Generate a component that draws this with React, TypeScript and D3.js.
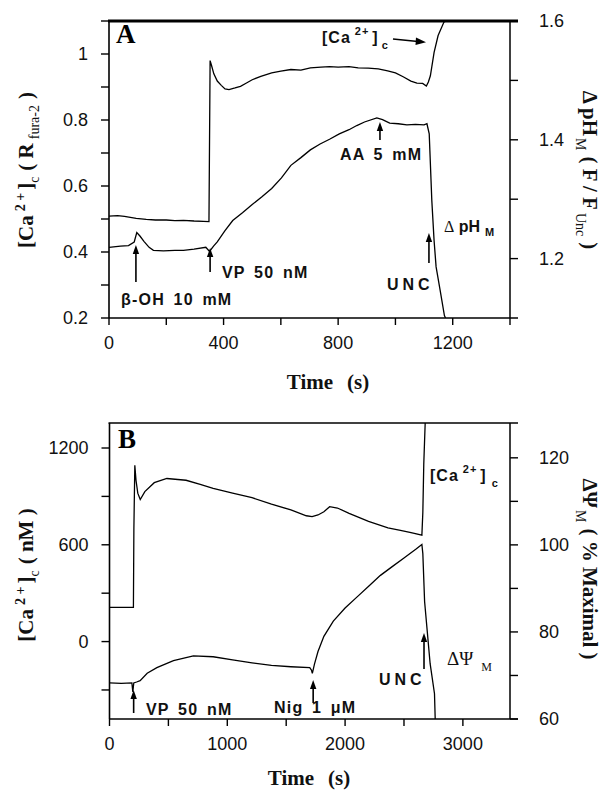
import * as d3 from "d3";

// ---- panel A data (time in s) ----
const caTimeA = [0, 30, 54, 95, 130, 162, 200, 230, 260, 297, 330, 349, 353, 358, 366, 378, 392, 405, 419, 440, 459, 480, 500, 530, 568, 600, 635, 670, 703, 740, 770, 800, 838, 870, 905, 940, 973, 1000, 1027, 1054, 1075, 1095, 1108, 1115, 1122, 1135, 1149, 1169, 1189];
const caValA = [0.509, 0.51, 0.508, 0.502, 0.499, 0.497, 0.497, 0.495, 0.496, 0.494, 0.493, 0.492, 0.98, 0.965, 0.94, 0.918, 0.905, 0.894, 0.892, 0.897, 0.902, 0.912, 0.922, 0.932, 0.943, 0.948, 0.953, 0.951, 0.958, 0.96, 0.962, 0.96, 0.962, 0.958, 0.957, 0.955, 0.949, 0.943, 0.931, 0.918, 0.912, 0.911, 0.903, 0.915, 0.934, 1.005, 1.056, 1.096, 1.108];

const phTimeA = [0, 40, 68, 88, 97, 108, 122, 140, 155, 190, 230, 260, 297, 338, 351, 365, 378, 405, 432, 466, 500, 534, 568, 602, 635, 670, 703, 737, 770, 804, 838, 865, 892, 935, 955, 980, 1010, 1040, 1070, 1100, 1110, 1118, 1127, 1135, 1142, 1156, 1171, 1175];
const phValA = [1.219, 1.221, 1.222, 1.228, 1.244, 1.238, 1.229, 1.219, 1.214, 1.213, 1.214, 1.214, 1.216, 1.219, 1.212, 1.221, 1.228, 1.247, 1.264, 1.277, 1.291, 1.304, 1.318, 1.336, 1.357, 1.37, 1.383, 1.393, 1.401, 1.41, 1.417, 1.424, 1.43, 1.437, 1.434, 1.428, 1.427, 1.425, 1.426, 1.425, 1.427, 1.41, 1.298, 1.23, 1.186, 1.147, 1.104, 1.1];

const xTicksA = [0, 400, 800, 1200];
const yTicksA = [0.2, 0.4, 0.6, 0.8, 1];
const y2TicksA = [1.2, 1.4, 1.6];

// ---- panel B data ----
const caTimeB = [0, 100, 203, 207, 215, 225, 240, 261, 300, 380, 487, 650, 770, 880, 1045, 1210, 1375, 1540, 1671, 1720, 1770, 1820, 1869, 1935, 2034, 2199, 2364, 2470, 2560, 2652, 2660, 2668, 2680];
const caValB = [212, 212, 212, 700, 1093, 1000, 920, 881, 930, 985, 1011, 1000, 975, 950, 920, 892, 852, 816, 780, 775, 785, 805, 836, 828, 795, 745, 705, 690, 675, 660, 800, 1100, 1355];

const psiTimeB = [0, 100, 190, 198, 206, 230, 260, 320, 402, 543, 712, 880, 1045, 1210, 1375, 1540, 1700, 1715, 1722, 1740, 1770, 1820, 1900, 2000, 2100, 2200, 2300, 2400, 2500, 2600, 2652, 2660, 2675, 2722, 2759, 2765];
const psiValB = [68.3, 68.2, 68.3, 66.2, 68.3, 68.5, 68.8, 70.5, 71.8, 73.4, 74.5, 74.3, 73.6, 72.9, 72.3, 72.0, 71.8, 71.2, 70.5, 72.6, 75.5, 79, 82.5, 85.5, 88, 90.5, 93, 95, 97, 99, 100.1, 98, 87, 72.7, 65.8, 60];

const xTicksB = [0, 1000, 2000, 3000];
const yTicksB = [0, 600, 1200];
const y2TicksB = [60, 80, 100, 120];

const SANS = "'Liberation Sans', Arial, sans-serif";
const SERIF = "'Liberation Serif', 'Times New Roman', serif";

function Frame({ x, yL, yR, xMajor, xMinor, lMajor, lMinor, rMajor, rMinor, lFmt, rFmt, topW }) {
  const [x0, x1] = x.range();
  const [yb, yt] = yL.range();
  return (
    <g stroke="#000" fill="none">
      <line x1={x0} x2={x0} y1={yt} y2={yb} strokeWidth={1.6} />
      <line x1={x1} x2={x1} y1={yt} y2={yb} strokeWidth={1.5} />
      <line x1={x0 - 1} x2={x1 + 8} y1={yt} y2={yt} strokeWidth={topW} />
      <line x1={x0} x2={x1 + 8} y1={yb} y2={yb} strokeWidth={1.6} />
      {lMinor.map((v) => (
        <line key={"l" + v} x1={x0 - 8} x2={x0} y1={yL(v)} y2={yL(v)} strokeWidth={1.4} />
      ))}
      {rMinor.map((v) => (
        <line key={"r" + v} x1={x1} x2={x1 + 8} y1={yR(v)} y2={yR(v)} strokeWidth={1.4} />
      ))}
      {xMinor.map((v) => (
        <line key={"x" + v} x1={x(v)} x2={x(v)} y1={yb} y2={yb + 7} strokeWidth={1.4} />
      ))}
      <g fill="#111" stroke="none" fontFamily={SANS} fontSize={18}>
        {lMajor.map((v) => (
          <text key={"lt" + v} x={x0 - 21} y={yL(v)} dy="0.36em" textAnchor="end">{lFmt(v)}</text>
        ))}
        {rMajor.map((v) => (
          <text key={"rt" + v} x={x1 + 29} y={yR(v)} dy="0.36em">{rFmt(v)}</text>
        ))}
        {xMajor.map((v) => (
          <text key={"xt" + v} x={x(v)} y={yb + 31} textAnchor="middle">{v}</text>
        ))}
      </g>
    </g>
  );
}

function Arrow({ x, tip, len, head = 9 }) {
  return (
    <g>
      <line x1={x} x2={x} y1={tip + len} y2={tip + head - 1} stroke="#000" strokeWidth={1.6} />
      <path d={`M${x},${tip} L${x - 3.2},${tip + head} L${x + 3.2},${tip + head} Z`} fill="#000" />
    </g>
  );
}

function Note({ x, y, children, ls = 1.2 }) {
  return (
    <text x={x} y={y} fontFamily={SANS} fontWeight="bold" fontSize={16} letterSpacing={ls} wordSpacing={3} fill="#111">
      {children}
    </text>
  );
}

function curve(xs, ys, x, y) {
  return d3.line().x((d) => x(xs[d])).y((d) => y(ys[d]))(d3.range(xs.length));
}

export default function App() {
  // Panel A scales
  const xA = d3.scaleLinear([0, 1400], [109, 510]);
  const yLA = d3.scaleLinear([0.2, 1.1], [318, 21]);
  const yRA = d3.scaleLinear([1.1, 1.6], [318, 21]);
  // Panel B scales
  const xB = d3.scaleLinear([0, 3400], [109.5, 510]);
  const yLB = d3.scaleLinear([-480, 1355], [719, 423]);
  const yRB = d3.scaleLinear([60, 128], [719, 423]);

  const f1 = (v) => (v === 1 ? "1" : d3.format(".1f")(v));

  return (
    <svg width={608} height={793} style={{ position: "absolute", left: 0, top: 0, background: "#fff" }}>
      <defs>
        <clipPath id="clipA"><rect x={109} y={21} width={401} height={297} /></clipPath>
        <clipPath id="clipB"><rect x={109.5} y={423} width={400.5} height={296} /></clipPath>
      </defs>
      <rect width={608} height={793} fill="#fff" />

      {/* ---------- panel A ---------- */}
      <Frame x={xA} yL={yLA} yR={yRA} xMajor={xTicksA} xMinor={d3.range(0, 1401, 200)}
        lMajor={yTicksA} lMinor={d3.range(0.2, 1.101, 0.1)} rMajor={y2TicksA} rMinor={d3.range(1.2, 1.601, 0.1)}
        lFmt={f1} rFmt={(v) => d3.format(".1f")(v)} topW={2.8} />
      <g clipPath="url(#clipA)" fill="none" stroke="#000" strokeWidth={1.3}>
        <path d={curve(caTimeA, caValA, xA, yLA)} />
        <path d={curve(phTimeA, phValA, xA, yRA)} />
      </g>
      <text x={116} y={43} fontFamily={SERIF} fontWeight="bold" fontSize={27}>A</text>

      <Arrow x={xA(94)} tip={245} len={37} />
      <Note x={121} y={305}>β-OH 10 mM</Note>
      <Arrow x={xA(353)} tip={248} len={24} />
      <Note x={222} y={278}>VP 50 nM</Note>
      <Arrow x={xA(946)} tip={122} len={18} />
      <Note x={340} y={160}>AA 5 mM</Note>
      <Arrow x={xA(1117)} tip={233} len={30} />
      <Note x={387} y={290} ls={4}>UNC</Note>
      <text x={444} y={232} fontFamily={SANS} fontWeight="bold" fontSize={16} fill="#111">
        <tspan fontFamily={SERIF} fontWeight="normal">Δ</tspan> pH
        <tspan dx={5} dy={4} fontSize={11}>M</tspan>
      </text>
      <text x={322} y={43} fontFamily={SANS} fontWeight="bold" fontSize={16} letterSpacing={1} fill="#111">
        [Ca<tspan dx={4} dy={-8} fontSize={11}>2+</tspan><tspan dx={3} dy={8}>]</tspan>
        <tspan dx={3} dy={6} fontSize={11}>c</tspan>
      </text>
      <line x1={393} y1={39} x2={418} y2={41.5} stroke="#000" strokeWidth={1.6} />
      <path d="M426,42.2 L416,37.5 L415.5,45 Z" fill="#000" />

      <text transform="translate(33,170) rotate(-90)" textAnchor="middle" fontFamily={SERIF} fontWeight="bold" fontSize={21} fill="#111">
        [Ca<tspan dx={4} dy={-8} fontSize={14}>2 +</tspan><tspan dx={3} dy={8}>]</tspan>
        <tspan dy={6} fontSize={14} fontWeight="normal">c</tspan>
        <tspan dx={6} dy={-6}>( R</tspan><tspan dx={4} dy={6} fontSize={14} fontWeight="normal">fura-2</tspan>
        <tspan dx={6} dy={-6}>)</tspan>
      </text>
      <text transform="translate(583,170) rotate(90)" textAnchor="middle" fontFamily={SERIF} fontWeight="bold" fontSize={21} fill="#111">
        Δ pH<tspan dx={2} dy={7} fontSize={14} fontWeight="normal">M</tspan>
        <tspan dx={6} dy={-7}>( F / F</tspan><tspan dx={3} dy={7} fontSize={14} fontWeight="normal">Unc</tspan>
        <tspan dx={6} dy={-7}>)</tspan>
      </text>
      <text x={328} y={389} textAnchor="middle" fontFamily={SERIF} fontWeight="bold" fontSize={21} fill="#111">
        Time<tspan dx={14}>(s)</tspan>
      </text>

      {/* ---------- panel B ---------- */}
      <Frame x={xB} yL={yLB} yR={yRB} xMajor={xTicksB} xMinor={d3.range(0, 3401, 500)}
        lMajor={yTicksB} lMinor={d3.range(-300, 1201, 300)} rMajor={y2TicksB} rMinor={d3.range(60, 121, 10)}
        lFmt={(v) => String(v)} rFmt={(v) => String(v)} topW={1.6} />
      <g clipPath="url(#clipB)" fill="none" stroke="#000" strokeWidth={1.3}>
        <path d={curve(caTimeB, caValB, xB, yLB)} />
        <path d={curve(psiTimeB, psiValB, xB, yRB)} />
      </g>
      <text x={118} y={448} fontFamily={SERIF} fontWeight="bold" fontSize={27}>B</text>

      <Arrow x={xB(205)} tip={690} len={23} />
      <Note x={146} y={715}>VP 50 nM</Note>
      <Arrow x={xB(1729)} tip={680} len={23} />
      <Note x={274} y={713}>Nig 1 μM</Note>
      <Arrow x={xB(2670)} tip={633} len={36} />
      <Note x={379} y={685} ls={4}>UNC</Note>
      <text x={430} y={481} fontFamily={SANS} fontWeight="bold" fontSize={16} letterSpacing={1} fill="#111">
        [Ca<tspan dx={4} dy={-8} fontSize={11}>2+</tspan><tspan dx={3} dy={8}>]</tspan>
        <tspan dx={5} dy={6} fontSize={11}>c</tspan>
      </text>
      <text x={447} y={665} fontFamily={SERIF} fontSize={19} fill="#111">
        ΔΨ<tspan dx={8} dy={6} fontSize={12}>M</tspan>
      </text>

      <text transform="translate(33,575) rotate(-90)" textAnchor="middle" fontFamily={SERIF} fontWeight="bold" fontSize={21} fill="#111">
        [Ca<tspan dx={4} dy={-8} fontSize={14}>2 +</tspan><tspan dx={3} dy={8}>]</tspan>
        <tspan dy={6} fontSize={14} fontWeight="normal">c</tspan>
        <tspan dx={6} dy={-6}>( nM )</tspan>
      </text>
      <text transform="translate(583,569) rotate(90)" textAnchor="middle" fontFamily={SERIF} fontWeight="bold" fontSize={21} fill="#111">
        ΔΨ<tspan dx={2} dy={7} fontSize={14} fontWeight="normal">M</tspan>
        <tspan dx={6} dy={-7}>( % Maximal )</tspan>
      </text>
      <text x={309} y={785} textAnchor="middle" fontFamily={SERIF} fontWeight="bold" fontSize={21} fill="#111">
        Time<tspan dx={14}>(s)</tspan>
      </text>
    </svg>
  );
}
